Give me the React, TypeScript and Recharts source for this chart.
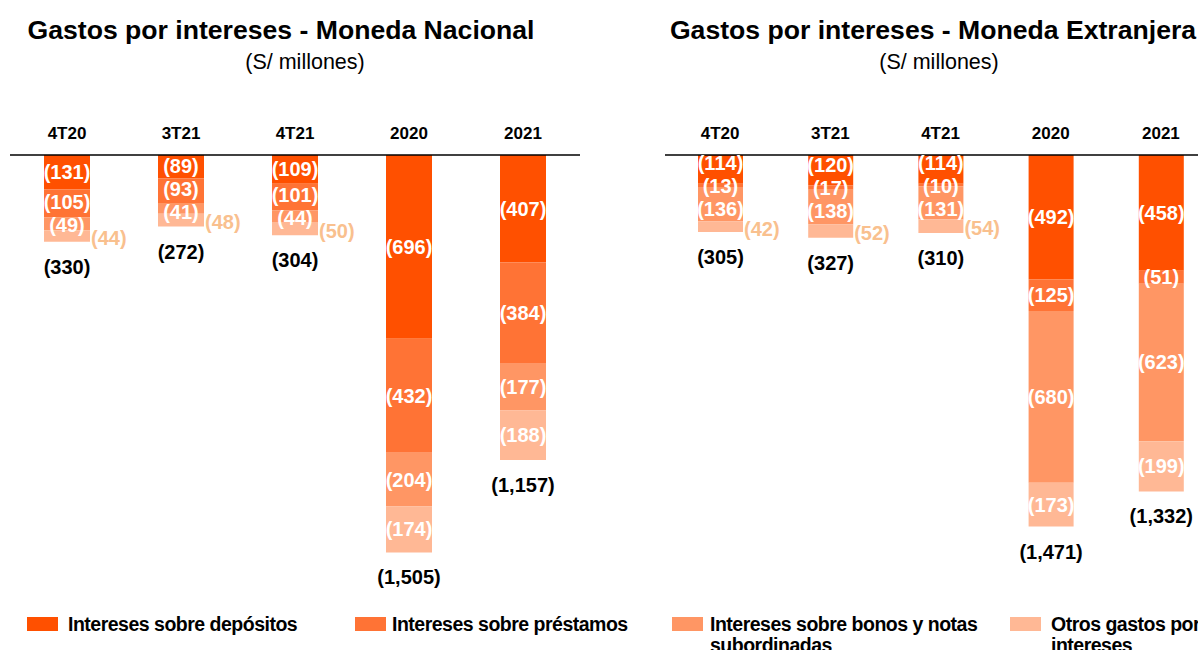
import React from 'react';
import { BarChart, Bar, XAxis, YAxis, LabelList } from 'recharts';

const periods = ['4T20', '3T21', '4T21', '2020', '2021'];

const seriesKeys = ['dep', 'pre', 'bon', 'otr'];
const seriesNames = [
  'Intereses sobre depósitos',
  'Intereses sobre préstamos',
  'Intereses sobre bonos y notas subordinadas',
  'Otros gastos por intereses',
];
const seriesColors = ['#FF5000', '#FF7335', '#FF9664', '#FFB895'];

// Moneda Nacional (S/ millones)
const mnDepositos = [-131, -89, -109, -696, -407];
const mnPrestamos = [-105, -93, -101, -432, -384];
const mnBonos = [-49, -41, -44, -204, -177];
const mnOtros = [-44, -48, -50, -174, -188];
const mnTotal = [-330, -272, -304, -1505, -1157];

// Moneda Extranjera (S/ millones)
const meDepositos = [-114, -120, -114, -492, -458];
const mePrestamos = [-13, -17, -10, -125, -51];
const meBonos = [-136, -138, -131, -680, -623];
const meOtros = [-42, -52, -54, -173, -199];
const meTotal = [-305, -327, -310, -1471, -1332];

const FONT = '"Liberation Sans", Arial, sans-serif';
const outsideColor = '#F9C08E';
const LABEL_SIZE = 20;

const fmt = (v: number) => `(${Math.abs(v).toLocaleString('en-US')})`;

const buildRows = (cols: number[][]) =>
  periods.map((p, i) => {
    const row: any = { period: p };
    seriesKeys.forEach((k, s) => (row[k] = cols[s][i]));
    return row;
  });

// push overlapping labels apart inside a column
function spread(centers: number[], gap: number) {
  const pos = centers.slice();
  for (let it = 0; it < 60; it++) {
    let moved = false;
    for (let i = 0; i < pos.length - 1; i++) {
      const d = pos[i + 1] - pos[i];
      if (d < gap - 0.01) {
        const s = (gap - d) / 2;
        pos[i] -= s;
        pos[i + 1] += s;
        moved = true;
      }
    }
    if (!moved) break;
  }
  return pos;
}

const segmentLabel = (cols: number[][], s: number) => (props: any) => {
  const vb = props.viewBox ?? props;
  const { x, y, width, height } = vb;
  const i = props.index;
  if (x == null || i == null) return null;
  const top = Math.min(y, y + height);
  const h = Math.abs(height);
  const vals = cols.map((c) => Math.abs(c[i]));
  const ppu = h / vals[s];
  const base = top - vals.slice(0, s).reduce((a, b) => a + b, 0) * ppu;
  let cum = 0;
  const centers = vals.map((v) => {
    const c = base + (cum + v / 2) * ppu;
    cum += v;
    return c;
  });
  const outside = vals[3] * ppu < 18;
  const text = fmt(cols[s][i]);
  if (s === 3 && outside) {
    return (
      <text x={x + width + 1} y={centers[3] + 2} fill={outsideColor} fontSize={LABEL_SIZE} fontWeight={700}
        fontFamily={FONT} dominantBaseline="central">{text}</text>
    );
  }
  const pos = spread(outside ? centers.slice(0, 3) : centers, 23);
  return (
    <text x={x + width / 2} y={pos[s]} fill="#fff" fontSize={LABEL_SIZE} fontWeight={700} fontFamily={FONT}
      textAnchor="middle" dominantBaseline="central">{text}</text>
  );
};

const totalLabel = (totals: number[]) => (props: any) => {
  const vb = props.viewBox ?? props;
  const { x, y, width, height } = vb;
  const i = props.index;
  if (x == null || i == null) return null;
  const bottom = Math.max(y, y + height);
  return (
    <text x={x + width / 2} y={bottom + 25} fill="#000" fontSize={LABEL_SIZE} fontWeight={700} fontFamily={FONT}
      textAnchor="middle" dominantBaseline="central">{fmt(totals[i])}</text>
  );
};

function StackChart({ cols, totals, width, barSize, bottom }: any) {
  const data = buildRows(cols);
  return (
    <BarChart width={width} height={650} data={data} margin={{ top: 125, right: 10, bottom, left: 10 }}>
      <XAxis dataKey="period" orientation="top" height={30} tickLine={false} tickSize={0} tickMargin={16}
        axisLine={{ stroke: '#000', strokeWidth: 1.5 }}
        tick={{ fill: '#000', fontSize: 17, fontWeight: 700, fontFamily: FONT }} />
      <YAxis hide domain={[-1800, 0]} />
      {seriesKeys.map((k, s) => (
        <Bar key={k} dataKey={k} stackId="a" fill={seriesColors[s]} barSize={barSize} isAnimationActive={false}>
          <LabelList dataKey={k} content={segmentLabel(cols, s)} />
          {s === 3 && <LabelList dataKey={k} content={totalLabel(totals)} />}
        </Bar>
      ))}
    </BarChart>
  );
}

const legendPos = [
  { sx: 27, tx: 68, w: 260 },
  { sx: 355, tx: 392, w: 260 },
  { sx: 672, tx: 710, w: 285 },
  { sx: 1010, tx: 1051, w: 170 },
];

export default function App() {
  return (
    <div style={{ position: 'fixed', left: 0, top: 0, width: 1198, height: 650, overflow: 'hidden', background: '#fff', fontFamily: FONT }}>
      <div style={{ position: 'absolute', left: 0, top: 0 }}>
        <StackChart cols={[mnDepositos, mnPrestamos, mnBonos, mnOtros]} totals={mnTotal} width={590} barSize={46} bottom={20} />
      </div>
      <div style={{ position: 'absolute', left: 655, top: 0 }}>
        <StackChart cols={[meDepositos, mePrestamos, meBonos, meOtros]} totals={meTotal} width={571} barSize={45} bottom={40} />
      </div>

      <div style={{ position: 'absolute', left: 281 - 300, width: 600, top: 17, textAlign: 'center', fontSize: 26.6, fontWeight: 700, lineHeight: 1, whiteSpace: 'nowrap' }}>
        Gastos por intereses - Moneda Nacional
      </div>
      <div style={{ position: 'absolute', left: 305 - 150, width: 300, top: 52, textAlign: 'center', fontSize: 21.5, lineHeight: 1 }}>
        (S/ millones)
      </div>
      <div style={{ position: 'absolute', left: 933 - 300, width: 600, top: 17, textAlign: 'center', fontSize: 26.6, fontWeight: 700, lineHeight: 1, whiteSpace: 'nowrap' }}>
        Gastos por intereses - Moneda Extranjera
      </div>
      <div style={{ position: 'absolute', left: 939 - 150, width: 300, top: 52, textAlign: 'center', fontSize: 21.5, lineHeight: 1 }}>
        (S/ millones)
      </div>

      {seriesNames.map((name, s) => (
        <React.Fragment key={name}>
          <div style={{ position: 'absolute', left: legendPos[s].sx, top: 617, width: 31, height: 14, background: seriesColors[s] }} />
          <div style={{ position: 'absolute', left: legendPos[s].tx, top: 614, width: legendPos[s].w, fontSize: 19.5, fontWeight: 700, letterSpacing: -0.5, lineHeight: '21px' }}>
            {name}
          </div>
        </React.Fragment>
      ))}
    </div>
  );
}
